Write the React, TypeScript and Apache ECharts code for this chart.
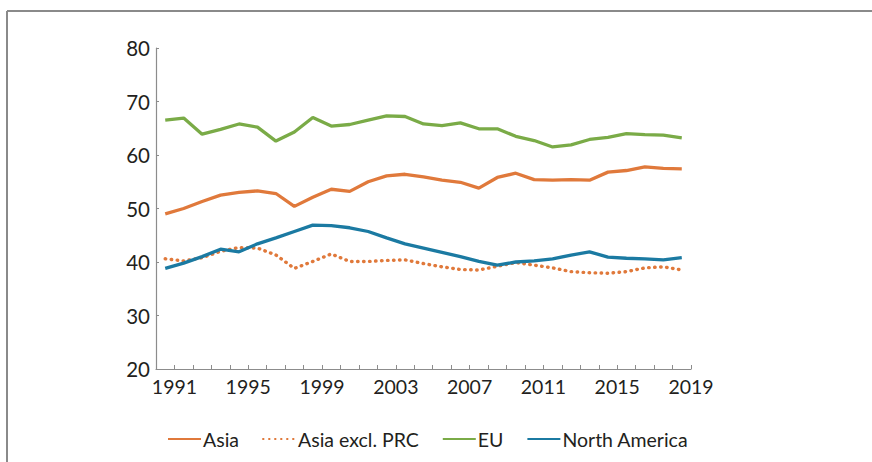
import React, { useEffect, useRef } from "react";
import * as echarts from "echarts";

const years = [
  1990, 1991, 1992, 1993, 1994, 1995, 1996, 1997, 1998, 1999,
  2000, 2001, 2002, 2003, 2004, 2005, 2006, 2007, 2008, 2009,
  2010, 2011, 2012, 2013, 2014, 2015, 2016, 2017, 2018,
];

const asia = [
  49.0, 50.0, 51.3, 52.5, 53.0, 53.3, 52.8, 50.4, 52.1, 53.6,
  53.2, 55.0, 56.1, 56.4, 55.9, 55.3, 54.9, 53.8, 55.8, 56.6,
  55.4, 55.3, 55.4, 55.3, 56.8, 57.1, 57.8, 57.5, 57.4,
];

const asiaExPRC = [
  40.6, 40.2, 40.8, 42.0, 42.7, 42.6, 41.3, 38.8, 40.1, 41.5,
  40.1, 40.1, 40.3, 40.4, 39.7, 39.1, 38.6, 38.5, 39.2, 39.9,
  39.4, 38.9, 38.2, 38.0, 37.9, 38.2, 38.9, 39.1, 38.5,
];

const eu = [
  66.5, 66.9, 63.9, 64.8, 65.8, 65.2, 62.6, 64.3, 67.0, 65.4,
  65.7, 66.5, 67.3, 67.2, 65.8, 65.5, 66.0, 64.9, 64.9, 63.5,
  62.7, 61.5, 61.9, 62.9, 63.3, 64.0, 63.8, 63.7, 63.2,
];

const northAmerica = [
  38.8, 39.8, 41.0, 42.4, 41.9, 43.4, 44.5, 45.7, 46.9, 46.8,
  46.4, 45.7, 44.5, 43.4, 42.6, 41.8, 41.0, 40.1, 39.4, 40.0,
  40.2, 40.6, 41.3, 41.9, 40.9, 40.7, 40.6, 40.4, 40.8,
];

const yTicks = { min: 20, max: 80, step: 10 };
const xRange = { min: 1990, max: 2019, firstLabel: 1991, labelStep: 4 };

const seriesNames = ["Asia", "Asia excl. PRC", "EU", "North America"];
const COLORS = {
  asia: "#E0793B",
  eu: "#7AAB47",
  na: "#1B7AA2",
};

const toPoints = (vals: number[]) => years.map((y, i) => [y + 0.5, vals[i]]);

export default function App() {
  const ref = useRef<HTMLDivElement>(null);

  useEffect(() => {
    if (!ref.current) return;
    const chart = echarts.init(ref.current, undefined, { renderer: "svg" });
    const font = "Lato, 'Open Sans', sans-serif";
    chart.setOption({
      animation: false,
      backgroundColor: "#ffffff",
      textStyle: { fontFamily: font },
      graphic: [
        {
          type: "line",
          shape: { x1: 7, y1: 11, x2: 872, y2: 11 },
          style: { stroke: "#8a8a8a", lineWidth: 2 },
          silent: true,
        },
        {
          type: "line",
          shape: { x1: 7, y1: 11, x2: 7, y2: 462 },
          style: { stroke: "#8a8a8a", lineWidth: 2 },
          silent: true,
        },
      ],
      grid: { left: 156, right: 181, top: 48, bottom: 93, containLabel: false },
      legend: {
        left: 162,
        top: 424,
        itemWidth: 33,
        itemHeight: 10,
        itemGap: 23,
        itemStyle: { opacity: 0 },
        textStyle: { fontFamily: font, fontSize: 19.5, color: "#231f20", padding: [0, 0, 0, -3] },
        data: seriesNames,
      },
      xAxis: {
        type: "value",
        min: xRange.min,
        max: xRange.max,
        interval: 1,
        axisLine: { show: true, lineStyle: { color: "#8c8c8c", width: 1.2 } },
        axisTick: { show: true, inside: true, length: 4, lineStyle: { color: "#8c8c8c" } },
        splitLine: { show: false },
        axisLabel: {
          fontFamily: font,
          fontSize: 19.5,
          color: "#231f20",
          margin: 7,
          showMinLabel: true,
          showMaxLabel: true,
          formatter: (v: number) =>
            (v - xRange.firstLabel) % xRange.labelStep === 0 && v >= xRange.firstLabel ? String(v) : "",
        },
      },
      yAxis: {
        type: "value",
        min: yTicks.min,
        max: yTicks.max,
        interval: yTicks.step,
        axisLine: { show: true, lineStyle: { color: "#8c8c8c", width: 1.2 } },
        axisTick: { show: true, inside: true, length: 3, lineStyle: { color: "#8c8c8c" } },
        splitLine: { show: false },
        axisLabel: { fontFamily: font, fontSize: 20.5, color: "#231f20", margin: 6 },
      },
      series: [
        {
          name: seriesNames[0],
          type: "line",
          data: toPoints(asia),
          symbol: "none",
          color: COLORS.asia,
          lineStyle: { width: 3.3, color: COLORS.asia },
          z: 3,
        },
        {
          name: seriesNames[1],
          type: "line",
          data: toPoints(asiaExPRC),
          symbol: "none",
          color: COLORS.asia,
          lineStyle: { width: 3.4, color: COLORS.asia, type: [0.5, 5.5], cap: "round" },
          z: 2,
        },
        {
          name: seriesNames[2],
          type: "line",
          data: toPoints(eu),
          symbol: "none",
          color: COLORS.eu,
          lineStyle: { width: 3.3, color: COLORS.eu },
          z: 3,
        },
        {
          name: seriesNames[3],
          type: "line",
          data: toPoints(northAmerica),
          symbol: "none",
          color: COLORS.na,
          lineStyle: { width: 3.3, color: COLORS.na },
          z: 4,
        },
      ],
    });
    return () => chart.dispose();
  }, []);

  return (
    <div
      ref={ref}
      style={{ position: "fixed", left: 0, top: 0, width: 872, height: 462 }}
    />
  );
}
